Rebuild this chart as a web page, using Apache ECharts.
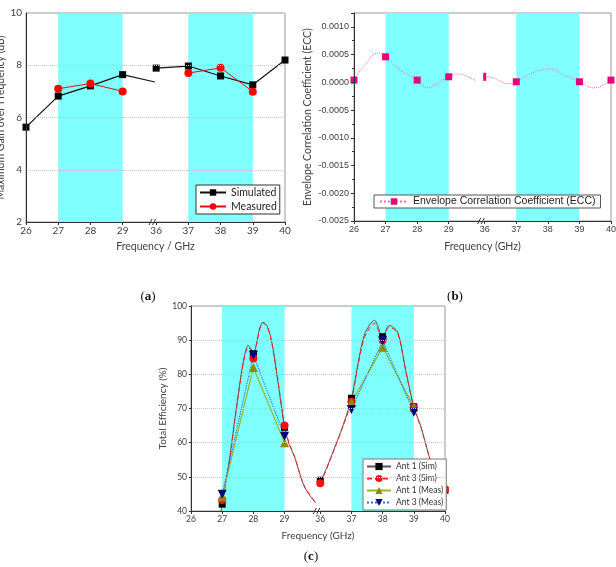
<!DOCTYPE html>
<html><head><meta charset="utf-8">
<script src="https://cdn.jsdelivr.net/npm/echarts@6/dist/echarts.min.js"></script>
<style>html,body{margin:0;padding:0;background:#fff}#c{width:616px;height:567px}</style>
</head><body><div id="c"></div>
<script>
// ---------- shared axis info ----------
const tickFreq = [26, 27, 28, 29, 36, 37, 38, 39, 40];
const tickLabels = ['26', '27', '28', '29', '36', '37', '38', '39', '40'];
const bandsFreq = [[27, 29], [37, 39]];

// ---------- (a) maximum gain ----------
const gainSimFreq = [26, 27, 28, 29, 30, 36, 37, 38, 39, 40];
const gainSim = [5.63, 6.82, 7.21, 7.64, 7.36, 7.89, 7.97, 7.59, 7.25, 8.20];
const gainSimMarked = [26, 27, 28, 29, 36, 37, 38, 39, 40];
const gainMeasFreq = [27, 28, 29, 37, 38, 39];
const gainMeas = [7.10, 7.30, 7.00, 7.70, 7.90, 6.99];

// ---------- (b) ECC ----------
const eccFreq = [26, 26.3, 26.78, 27, 27.47, 28, 28.32, 28.64, 29, 29.28, 29.87,
                 36, 36.2, 36.74, 37, 37.48, 38.02, 38.55, 39, 39.45, 40];
const eccVal = [0.00004, 0.00028, 0.00053, 0.00046, 0.00022, 0.00004, -0.00010, -0.00002, 0.00010, 0.00015, 0.00002,
                0.00010, 0.00009, -0.00002, 0.00001, 0.00016, 0.00024, 0.00012, 0.00001, -0.00010, 0.00004];
const eccMarked = [26, 27, 28, 29, 36, 37, 38, 39, 40];

// ---------- (c) total efficiency ----------
const simFreq = [26.97, 27, 27.2, 27.4, 27.6, 27.72, 27.83, 27.93, 28, 28.1, 28.2, 28.31, 28.45, 28.6, 28.8, 29, 29.15, 29.32, 29.64, 30,
                 36, 36.1, 36.43, 36.75, 37, 37.21, 37.43, 37.74, 38, 38.21, 38.48, 38.74, 39, 39.23, 39.5, 39.82, 40];
const ant1Sim = [40.0, 42.0, 53.0, 66.5, 79.5, 85.6, 88.5, 87.4, 86.0, 89.0, 93.3, 95.2, 94.0, 89.0, 77.0, 64.5, 59.5, 55.8, 47.0, 42.3,
                 49.0, 50.4, 57.8, 65.6, 73.0, 83.1, 91.9, 95.8, 91.0, 94.3, 92.4, 81.2, 70.5, 64.6, 55.8, 47.0, 46.1];
const ant3Sim = [40.0, 43.2, 52.5, 66.0, 79.0, 85.0, 88.0, 86.8, 84.6, 88.5, 93.0, 95.0, 93.8, 88.8, 77.5, 65.0, 59.8, 56.0, 47.2, 42.5,
                 48.1, 50.0, 57.5, 65.3, 72.0, 82.5, 91.0, 95.0, 90.0, 93.8, 92.0, 81.0, 70.2, 64.4, 55.6, 47.0, 46.4];
const simMarked = [27, 28, 29, 36, 37, 38, 39, 40];
const measFreq = [27, 28, 29, 37, 38, 39];
const ant1Meas = [44.2, 82.0, 60.0, 71.8, 87.9, 70.4];
const ant3Meas = [44.9, 85.6, 61.9, 69.7, 89.8, 68.9];

// ---------- helpers ----------
const GAP = [1.04, 1.14, 1.145];
function toPos(f, gap) { return f <= 32 ? f - 26 : f - 33 + gap; }

function lineData(freqs, vals, marked, gap, special) {
  const d = [];
  freqs.forEach((f, i) => {
    if (i > 0 && freqs[i - 1] <= 32 && f > 32) d.push({ value: [toPos(32, gap), '-'], symbol: 'none' });
    const it = { value: [toPos(f, gap), vals[i]] };
    if (marked.indexOf(f) < 0) it.symbol = 'none';
    if (special && special[f]) Object.assign(it, special[f]);
    d.push(it);
  });
  return d;
}
function bandArea(gap) {
  return {
    silent: true,
    itemStyle: { color: '#80ffff', opacity: 1 },
    data: bandsFreq.map(b => [{ xAxis: toPos(b[0], gap) }, { xAxis: toPos(b[1], gap) }])
  };
}
function xAxisOpt(gi, gap, name, font, labelSize, nameFont, nameSize, nameGap) {
  const pos = tickFreq.map(f => toPos(f, gap));
  return {
    type: 'value', gridIndex: gi, min: 0, max: 7 + gap, z: 5,
    name: name, nameLocation: 'middle', nameGap: nameGap,
    nameTextStyle: { fontFamily: nameFont, fontSize: nameSize, color: '#404040' },
    axisLine: { show: true, onZero: false, lineStyle: { color: '#333', width: 1 } },
    axisTick: { show: true, customValues: pos, length: 3, inside: false, lineStyle: { color: '#333' } },
    axisLabel: {
      show: true, customValues: pos, margin: 4,
      formatter: v => { const k = pos.findIndex(p => Math.abs(p - v) < 1e-6); return k >= 0 ? tickLabels[k] : ''; },
      fontFamily: font, fontSize: labelSize, color: '#404040'
    },
    splitLine: { show: false }, minorTick: { show: false }
  };
}

const chart = echarts.init(document.getElementById('c'));
const gridBase = { show: true, borderColor: '#999', borderWidth: 1, backgroundColor: 'transparent', containLabel: false, outerBoundsMode: 'none' };

const option = {
  animation: false,
  backgroundColor: '#fff',
  grid: [
    Object.assign({ left: 26, top: 13, width: 259, height: 209 }, gridBase),
    Object.assign({ left: 354, top: 13, width: 257, height: 208 }, gridBase),
    Object.assign({ left: 191, top: 306, width: 254, height: 205 }, gridBase)
  ],
  xAxis: [
    xAxisOpt(0, GAP[0], 'Frequency / GHz', 'Lato', 10, 'Lato', 10.5, 19),
    xAxisOpt(1, GAP[1], 'Frequency (GHz)', 'Liberation Sans', 9, 'Lato', 10.5, 20),
    xAxisOpt(2, GAP[2], 'Frequency (GHz)', 'Lato', 8.5, 'Lato', 10, 20)
  ],
  yAxis: [
    {
      type: 'value', gridIndex: 0, min: 2, max: 10, interval: 2, z: 5,
      name: 'Maximum Gain over Frequency (dB)', nameLocation: 'middle', nameGap: 16,
      nameTextStyle: { fontFamily: 'Lato', fontSize: 10.5, color: '#404040' },
      axisLine: { show: true, onZero: false, lineStyle: { color: '#333' } },
      axisTick: { show: false },
      axisLabel: { fontFamily: 'Lato', fontSize: 10, color: '#404040', margin: 4 },
      splitLine: { show: true, lineStyle: { color: '#c8c8c8', type: 'dotted', width: 1 } }
    },
    {
      type: 'value', gridIndex: 1, min: -0.0025, max: 0.00125, interval: 0.0005, z: 5,
      name: 'Envelope Correlation Coefficient (ECC)', nameLocation: 'middle', nameGap: 41,
      nameTextStyle: { fontFamily: 'Lato', fontSize: 10.5, color: '#404040' },
      axisLine: { show: true, onZero: false, lineStyle: { color: '#333' } },
      axisTick: { show: true, length: 3, lineStyle: { color: '#333' } },
      minorTick: { show: true, splitNumber: 2, length: 2, lineStyle: { color: '#333' } },
      axisLabel: {
        fontFamily: 'Liberation Sans', fontSize: 9, color: '#404040', margin: 5, showMaxLabel: false,
        formatter: v => Math.abs(v) < 1e-12 ? '0.0000' : v.toFixed(4)
      },
      splitLine: { show: false }
    },
    {
      type: 'value', gridIndex: 2, min: 40, max: 100, interval: 10, z: 5,
      name: 'Total Efficiency (%)', nameLocation: 'middle', nameGap: 23,
      nameTextStyle: { fontFamily: 'Lato', fontSize: 10, color: '#404040' },
      axisLine: { show: true, onZero: false, lineStyle: { color: '#333' } },
      axisTick: { show: true, length: 2, lineStyle: { color: '#333' } },
      axisLabel: { fontFamily: 'Lato', fontSize: 8.5, color: '#404040', margin: 4 },
      splitLine: { show: true, lineStyle: { color: '#c8c8c8', type: 'dotted', width: 1 } }
    }
  ],
  legend: [
    {
      data: ['Simulated', 'Measured'], orient: 'vertical', left: 196, top: 185, selectedMode: false,
      itemWidth: 26, itemHeight: 8, itemGap: 3, padding: [2, 3, 2, 3],
      borderColor: '#333', borderWidth: 1, backgroundColor: '#fff',
      textStyle: { fontFamily: 'Lato', fontSize: 10.5, color: '#222' }
    },
    {
      data: ['Envelope Correlation Coefficient (ECC)'], orient: 'vertical', left: 374, top: 195, selectedMode: false,
      itemWidth: 28, itemHeight: 8, padding: [1, 5, 1, 5],
      borderColor: '#555', borderWidth: 1, backgroundColor: '#fff',
      textStyle: { fontFamily: 'Liberation Sans', fontSize: 10.5, color: '#222' }
    },
    {
      data: ['Ant 1 (Sim)', 'Ant 3 (Sim)', 'Ant 1 (Meas)', 'Ant 3 (Meas)'], orient: 'vertical', left: 363, top: 459, selectedMode: false,
      itemWidth: 24, itemHeight: 9, itemGap: 3, padding: [3, 3, 3, 3],
      borderColor: '#777', borderWidth: 1, backgroundColor: '#fff',
      textStyle: { fontFamily: 'Lato', fontSize: 8.5, color: '#333' }
    }
  ],
  series: [
    {
      name: 'Simulated', type: 'line', xAxisIndex: 0, yAxisIndex: 0,
      symbol: 'rect', symbolSize: 7, itemStyle: { color: '#000' },
      lineStyle: { color: '#111', width: 1.2 },
      data: lineData(gainSimFreq, gainSim, gainSimMarked, GAP[0]),
      markArea: bandArea(GAP[0])
    },
    {
      name: 'Measured', type: 'line', xAxisIndex: 0, yAxisIndex: 0,
      symbol: 'circle', symbolSize: 8, itemStyle: { color: '#ff0000' },
      lineStyle: { color: '#e01010', width: 1 },
      data: lineData(gainMeasFreq, gainMeas, gainMeasFreq, GAP[0])
    },
    {
      name: 'Envelope Correlation Coefficient (ECC)', type: 'line', xAxisIndex: 1, yAxisIndex: 1,
      smooth: 0.45, symbol: 'rect', symbolSize: 7, itemStyle: { color: '#e8007c' },
      lineStyle: { color: '#ff6aa6', width: 1, type: 'dotted' },
      data: lineData(eccFreq, eccVal, eccMarked, GAP[1], { 36: { symbolSize: [3, 8] } }),
      markArea: bandArea(GAP[1])
    },
    {
      name: 'Ant 1 (Sim)', type: 'line', xAxisIndex: 2, yAxisIndex: 2,
      smooth: 0.3, symbol: 'rect', symbolSize: 7, itemStyle: { color: '#000' },
      lineStyle: { color: '#555', width: 1 },
      data: lineData(simFreq, ant1Sim, simMarked, GAP[2]),
      markArea: bandArea(GAP[2])
    },
    {
      name: 'Ant 3 (Sim)', type: 'line', xAxisIndex: 2, yAxisIndex: 2,
      smooth: 0.3, symbol: 'circle', symbolSize: 8, itemStyle: { color: '#ff1010' },
      lineStyle: { color: '#ff2020', width: 1, type: [5, 3] },
      data: lineData(simFreq, ant3Sim, simMarked, GAP[2])
    },
    {
      name: 'Ant 1 (Meas)', type: 'line', xAxisIndex: 2, yAxisIndex: 2,
      symbol: 'triangle', symbolSize: 9, itemStyle: { color: '#8c8c00' },
      lineStyle: { color: '#9ab52a', width: 1.2 },
      data: lineData(measFreq, ant1Meas, measFreq, GAP[2])
    },
    {
      name: 'Ant 3 (Meas)', type: 'line', xAxisIndex: 2, yAxisIndex: 2,
      symbol: 'triangle', symbolRotate: 180, symbolSize: 9, itemStyle: { color: '#00007a' },
      lineStyle: { color: '#2f6fd8', width: 1.2, type: 'dotted' },
      data: lineData(measFreq, ant3Meas, measFreq, GAP[2])
    }
  ]
};
chart.setOption(option);

// axis-break marks and panel captions
const yMins = [2, -0.0025, 40];
const graphics = [];
[0, 1, 2].forEach(gi => {
  const p = chart.convertToPixel({ gridIndex: gi }, [toPos(36, GAP[gi]) - 0.08, yMins[gi]]);
  graphics.push({
    type: 'group', x: p[0], y: p[1], z: 100, children: [
      { type: 'rect', shape: { x: -3, y: -1.5, width: 5, height: 3 }, style: { fill: '#fff' } },
      { type: 'line', shape: { x1: -4.5, y1: 3, x2: -1.5, y2: -3 }, style: { stroke: '#333', lineWidth: 1 } },
      { type: 'line', shape: { x1: -1, y1: 3, x2: 2, y2: -3 }, style: { stroke: '#333', lineWidth: 1 } }
    ]
  });
});
const caps = [['a', 148, 297], ['b', 455, 297], ['c', 311, 557]];
caps.forEach(c => graphics.push({
  type: 'text', x: c[1], y: c[2], z: 100,
  style: {
    text: '{n|(}{b|' + c[0] + '}{n|)}', align: 'center', verticalAlign: 'middle',
    rich: {
      n: { fontFamily: 'Liberation Serif', fontSize: 13, fill: '#111' },
      b: { fontFamily: 'Liberation Serif', fontSize: 13, fontWeight: 'bold', fill: '#111' }
    }
  }
}));
chart.setOption({ graphic: graphics });
</script>
</body></html>
